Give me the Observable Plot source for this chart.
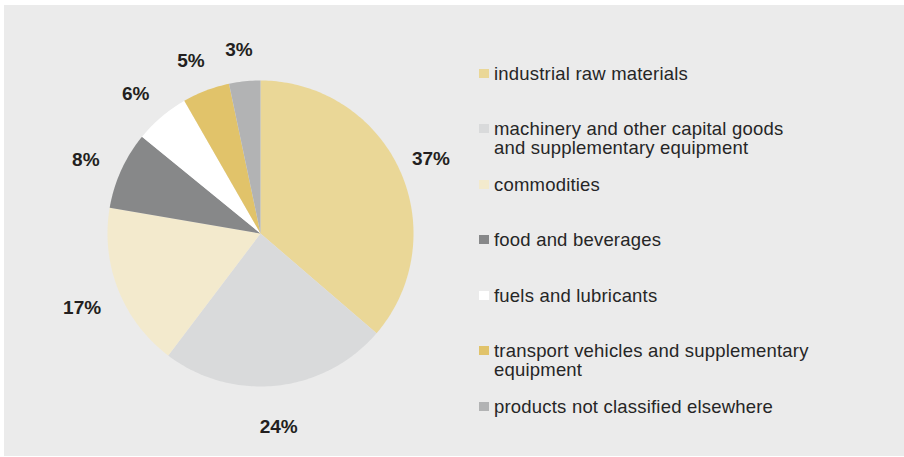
<!DOCTYPE html>
<html>
<head>
<meta charset="utf-8">
<script src="https://cdn.jsdelivr.net/npm/d3@7"></script>
<script src="https://cdn.jsdelivr.net/npm/@observablehq/plot@0.6"></script>
<style>
  html, body { margin: 0; padding: 0; background: #ffffff; }
  body { font-family: "Liberation Sans", Arial, Helvetica, sans-serif; }
  #wrap { position: absolute; left: 4px; top: 5px; width: 900px; height: 451px; background: #ebebeb; overflow: hidden; }
  #chart { position: absolute; left: 0; top: 0; }
  #legend { position: absolute; left: 0; top: 0; width: 900px; height: 451px; }
  .item { position: absolute; left: 475px; width: 420px; }
  .sw { position: absolute; left: 0; top: 5px; width: 10px; height: 9px; }
  .lab { position: absolute; left: 15px; top: 0; font-size: 18.5px; line-height: 19px; letter-spacing: 0.2px; color: #262626; white-space: nowrap; }
</style>
</head>
<body>
<div id="wrap">
  <div id="chart"></div>
  <div id="legend"></div>
</div>
<script>
// ---- data ----
const categories = [
  "industrial raw materials",
  "machinery and other capital goods|and supplementary equipment",
  "commodities",
  "food and beverages",
  "fuels and lubricants",
  "transport vehicles and supplementary|equipment",
  "products not classified elsewhere"
];
const shares = [36.3, 24.0, 17.4, 8.2, 5.8, 5.0, 3.3];
const percentLabels = ["37%", "24%", "17%", "8%", "6%", "5%", "3%"];
const colors = ["#ead797", "#d9dadb", "#f3eacd", "#878889", "#ffffff", "#e1c36a", "#b2b3b4"];

// ---- build slice polygons (angles measured clockwise from 12 o'clock) ----
const total = d3.sum(shares);
const slices = [];
const labelRows = [];
let cum = 0;
shares.forEach((v, i) => {
  const a0 = cum / total * 2 * Math.PI;
  cum += v;
  const a1 = cum / total * 2 * Math.PI;
  const n = Math.max(2, Math.ceil((a1 - a0) / (Math.PI / 180)));
  slices.push({cat: categories[i], x: 0, y: 0});
  for (let k = 0; k <= n; k++) {
    const a = a0 + (a1 - a0) * k / n;
    slices.push({cat: categories[i], x: Math.sin(a), y: Math.cos(a)});
  }
  slices.push({cat: categories[i], x: 0, y: 0});
  const am = (a0 + a1) / 2;
  const rl = 1.24;
  labelRows.push({text: percentLabels[i], x: rl * Math.sin(am), y: rl * Math.cos(am)});
});

const W = 900, H = 451;
const chart = Plot.plot({
  width: W,
  height: H,
  marginLeft: 103,
  marginRight: W - 409,
  marginTop: 75,
  marginBottom: H - 381,
  x: {domain: [-1, 1], axis: null},
  y: {domain: [-1, 1], axis: null},
  color: {domain: categories, range: colors},
  style: {background: "transparent", overflow: "visible"},
  marks: [
    Plot.line(slices, {x: "x", y: "y", z: "cat", fill: "cat", stroke: null, curve: "linear"}),
    Plot.text(labelRows, {
      x: "x", y: "y", text: "text", dy: 5, dx: -2,
      fontSize: 19, fontWeight: "bold", fill: "#231f20",
      fontFamily: "'Liberation Sans', Arial, sans-serif"
    })
  ]
});
document.getElementById("chart").appendChild(chart);

// ---- legend ----
const legend = document.getElementById("legend");
const step = 55.5;
categories.forEach((c, i) => {
  const it = document.createElement("div");
  it.className = "item";
  it.style.top = (58.5 + i * step) + "px";
  const sw = document.createElement("div");
  sw.className = "sw";
  sw.style.background = colors[i];
  const lab = document.createElement("div");
  lab.className = "lab";
  lab.innerHTML = c.split("|").join("<br>");
  it.appendChild(sw);
  it.appendChild(lab);
  legend.appendChild(it);
});
</script>
</body>
</html>
